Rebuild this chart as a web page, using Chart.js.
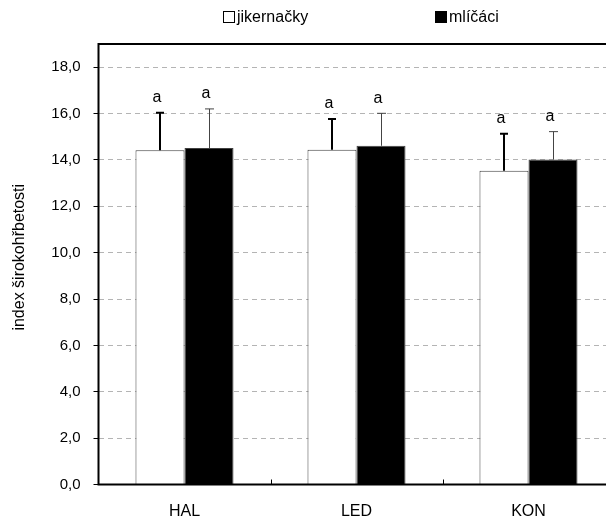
<!DOCTYPE html>
<html>
<head>
<meta charset="utf-8">
<script src="https://cdn.jsdelivr.net/npm/chart.js@4/dist/chart.umd.min.js"></script>
<style>
html,body{margin:0;padding:0;background:#fff;overflow:hidden;width:606px;height:517px;}
#wrap{position:relative;width:640px;height:517px;}
.leg{position:absolute;top:7px;height:20px;font:16px "Liberation Sans",Arial,sans-serif;color:#000;display:flex;align-items:center;white-space:nowrap;}
.leg span.box{display:inline-block;width:10px;height:10px;border:1px solid #000;margin-right:2px;}
</style>
</head>
<body>
<div id="wrap">
<canvas id="c" width="640" height="517"></canvas>
</div>
<script>
const categories = ["HAL", "LED", "KON"];
const seriesNames = ["jikernačky", "mlíčáci"];
const jikernackyMean = [14.42, 14.44, 13.53];
const jikernackySD = [1.62, 1.33, 1.60];
const mlicaciMean = [14.51, 14.61, 14.02];
const mlicaciSD = [1.69, 1.40, 1.20];
const jikernackyLetters = ["a", "a", "a"];
const mlicaciLetters = ["a", "a", "a"];
const yTicks = [0, 2, 4, 6, 8, 10, 12, 14, 16, 18];
const yTitle = "index širokohřbetosti";

const FONT = '"Liberation Sans", Arial, sans-serif';

// HTML legend from series names
const legendX = [223, 435];
const legendFill = ['#fff', '#000'];
seriesNames.forEach((n, i) => {
  const d = document.createElement('div');
  d.className = 'leg';
  d.style.left = legendX[i] + 'px';
  const b = document.createElement('span');
  b.className = 'box';
  b.style.background = legendFill[i];
  d.appendChild(b);
  d.appendChild(document.createTextNode(n));
  document.getElementById('wrap').appendChild(d);
});

const errStyles = [
  {color: '#000', width: 2, cap: 8},
  {color: '#444', width: 1, cap: 9}
];

const errorBarPlugin = {
  id: 'errbars',
  afterDatasetsDraw(chart) {
    const ctx = chart.ctx;
    const y = chart.scales.y;
    const xs = chart.scales.x;
    const a = chart.chartArea;
    chart.data.datasets.forEach((ds, di) => {
      const meta = chart.getDatasetMeta(di);
      const st = errStyles[di];
      meta.data.forEach((bar, i) => {
        const v = ds.data[i];
        const top = y.getPixelForValue(v + ds.sd[i]);
        const base = y.getPixelForValue(v);
        ctx.save();
        ctx.strokeStyle = st.color;
        ctx.lineWidth = st.width;
        ctx.beginPath();
        const x = Math.round(bar.x) + (st.width % 2 ? 0.5 : 0);
        ctx.moveTo(x, base);
        ctx.lineTo(x, top);
        ctx.moveTo(x - st.cap / 2, top);
        ctx.lineTo(x + st.cap / 2, top);
        ctx.stroke();
        ctx.fillStyle = '#000';
        ctx.font = '16px ' + FONT;
        ctx.textAlign = 'center';
        ctx.textBaseline = 'middle';
        ctx.fillText(ds.letters[i], bar.x - 3, top - 15);
        ctx.restore();
      });
    });
    // small inner tick marks at category boundaries
    ctx.save();
    ctx.strokeStyle = '#000';
    ctx.lineWidth = 1;
    ctx.beginPath();
    for (let i = 1; i < categories.length; i++) {
      const bx = Math.round((xs.getPixelForValue(i - 1) + xs.getPixelForValue(i)) / 2) + 0.5;
      ctx.moveTo(bx, a.bottom);
      ctx.lineTo(bx, a.bottom - 5);
    }
    ctx.stroke();
    ctx.restore();
    // plot frame
    ctx.save();
    ctx.strokeStyle = '#000';
    ctx.lineWidth = 2;
    ctx.strokeRect(a.left, a.top, a.right - a.left, a.bottom - a.top);
    ctx.restore();
    // y-axis title
    ctx.save();
    ctx.translate(20, (a.top + a.bottom) / 2 - 7);
    ctx.rotate(-Math.PI / 2);
    ctx.fillStyle = '#000';
    ctx.font = '16px ' + FONT;
    ctx.textAlign = 'center';
    ctx.textBaseline = 'middle';
    ctx.fillText(yTitle, 0, 0);
    ctx.restore();
  }
};

new Chart(document.getElementById('c'), {
  type: 'bar',
  data: {
    labels: categories,
    datasets: [
      {label: seriesNames[0], data: jikernackyMean, sd: jikernackySD, letters: jikernackyLetters,
       backgroundColor: '#fff', borderColor: '#404040', borderWidth: 1,
       categoryPercentage: 0.57, barPercentage: 1.0},
      {label: seriesNames[1], data: mlicaciMean, sd: mlicaciSD, letters: mlicaciLetters,
       backgroundColor: '#000', borderColor: '#404040', borderWidth: 1,
       categoryPercentage: 0.57, barPercentage: 1.0}
    ]
  },
  options: {
    responsive: false,
    animation: false,
    devicePixelRatio: 1,
    layout: {padding: {top: 44, right: 25.5, left: 0, bottom: 0}},
    plugins: {legend: {display: false}, tooltip: {enabled: false}},
    scales: {
      x: {
        grid: {display: false},
        border: {display: false},
        ticks: {color: '#000', font: {family: FONT, size: 16}, padding: 9},
        afterFit(s) { s.height = 32.5; }
      },
      y: {
        min: 0, max: 19,
        afterBuildTicks(s) { s.ticks = yTicks.map(v => ({value: v})); },
        grid: {color: '#b4b4b4', tickLength: 5, tickColor: '#000', tickBorderDash: [], tickWidth: 1, lineWidth: 1},
        border: {display: false, dash: [5, 4]},
        ticks: {color: '#000', font: {family: FONT, size: 15}, padding: 13,
                callback: v => v.toFixed(1).replace('.', ',')},
        title: {display: false},
        afterFit(s) { s.width = 98.5; }
      }
    }
  },
  plugins: [errorBarPlugin]
});
</script>
</body>
</html>
